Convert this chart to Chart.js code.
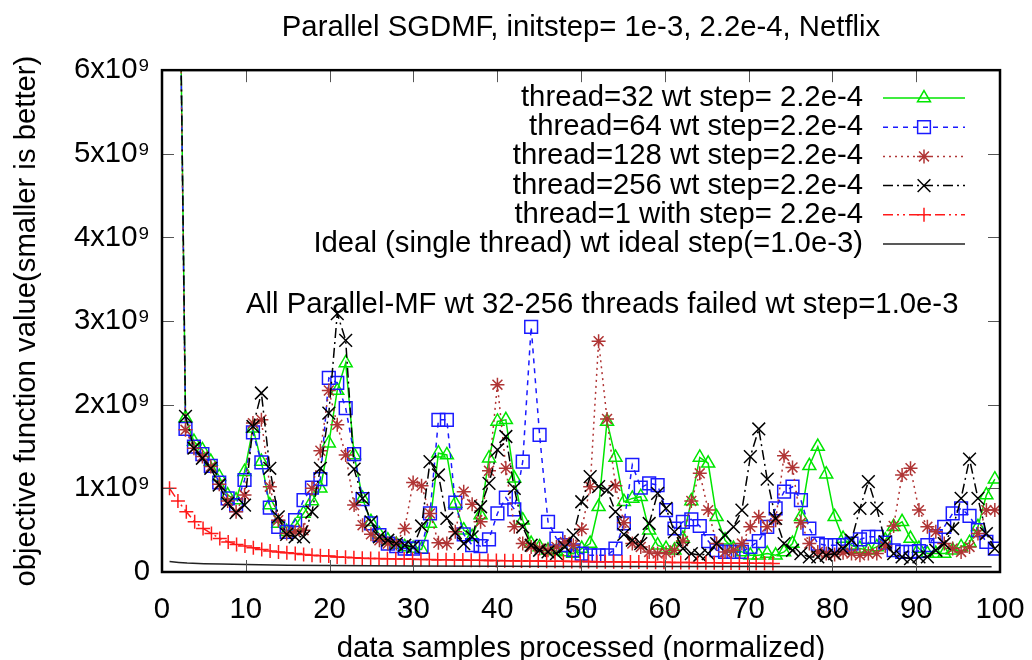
<!DOCTYPE html>
<html>
<head>
<meta charset="utf-8">
<title>Parallel SGDMF</title>
<script src="https://cdn.jsdelivr.net/npm/chart.js@4.4.1/dist/chart.umd.min.js"></script>
<style>
  html, body { margin: 0; padding: 0; background: #fff; }
</style>
</head>
<body>
<canvas id="chartSgd" width="1032" height="660"></canvas>
<script>
// x position of the first sample and the spacing between samples
const sampleStart = 1.8;
const sampleStep = 1.006;
const singleStart = 0.9;
const singleStep = 1.0;

// objective values, in units of 1e9 (first parallel sample is far above the plot)
const thread32 = [10,
  1.84, 1.56, 1.46, 1.32, 1.14, 0.92, 0.86, 1.20, 1.72, 1.32, 0.80, 0.58, 0.48, 0.55, 0.70, 0.85, 1.00, 1.54, 2.17, 2.50, 1.40, 0.88,
  0.60, 0.45, 0.38, 0.33, 0.30, 0.28, 0.27, 0.58, 1.42, 1.40, 0.82, 0.50, 0.42, 0.68, 1.36, 1.80, 1.82, 1.12, 0.62, 0.34, 0.30, 0.26, 0.25, 0.24, 0.22,
  0.28, 0.34, 0.78, 1.80, 1.37, 0.84, 0.88, 0.90, 0.50, 0.32, 0.28, 0.26, 0.40, 0.85, 1.37, 1.30, 0.66, 0.38, 0.28, 0.24, 0.20, 0.20, 0.22, 0.20, 0.24,
  0.34, 0.66, 1.27, 1.50, 1.17, 0.66, 0.40, 0.32, 0.28, 0.26, 0.30, 0.38, 0.54, 0.60, 0.40, 0.28, 0.22, 0.22, 0.22, 0.26, 0.30, 0.35, 0.54, 0.92, 1.11];
const thread64 = [10,
  1.71, 1.50, 1.41, 1.27, 1.07, 0.88, 0.80, 1.10, 1.67, 1.31, 0.77, 0.54, 0.48, 0.62, 0.86, 1.01, 1.11, 2.32, 2.26, 1.96, 1.41, 0.87,
  0.58, 0.44, 0.34, 0.31, 0.28, 0.28, 0.30, 0.70, 1.82, 1.82, 0.83, 0.45, 0.32, 0.31, 0.39, 0.70, 0.89, 0.75, 1.32, 2.93, 1.64, 0.60, 0.40, 0.32, 0.26,
  0.22, 0.20, 0.20, 0.20, 0.28, 0.58, 1.28, 1.01, 1.06, 1.04, 0.74, 0.52, 0.60, 0.63, 0.55, 0.37, 0.26, 0.24, 0.24, 0.24, 0.30, 0.37, 0.54, 0.76, 0.96,
  1.02, 0.86, 0.52, 0.34, 0.32, 0.32, 0.32, 0.34, 0.39, 0.42, 0.42, 0.35, 0.26, 0.24, 0.24, 0.25, 0.32, 0.43, 0.54, 0.70, 0.76, 0.67, 0.50, 0.36, 0.28];
const thread128 = [10,
  1.70, 1.48, 1.38, 1.26, 1.05, 0.85, 0.72, 0.92, 1.78, 1.82, 1.02, 0.62, 0.46, 0.48, 0.50, 1.00, 1.45, 2.17, 1.76, 1.40, 0.80, 0.56,
  0.45, 0.38, 0.34, 0.34, 0.52, 1.07, 1.03, 0.70, 0.35, 0.34, 0.48, 0.96, 0.81, 0.60, 1.21, 2.24, 1.24, 0.54, 0.34, 0.30, 0.28, 0.26, 0.30, 0.36, 0.32,
  0.51, 1.02, 2.76, 1.83, 1.03, 0.59, 0.34, 0.30, 0.24, 0.22, 0.23, 0.26, 0.37, 0.85, 1.18, 0.74, 0.34, 0.24, 0.26, 0.34, 0.54, 0.66, 0.54, 0.62, 1.39,
  1.25, 0.59, 0.34, 0.24, 0.22, 0.21, 0.23, 0.22, 0.20, 0.22, 0.22, 0.31, 0.55, 1.16, 1.24, 0.74, 0.54, 0.48, 0.34, 0.28, 0.24, 0.30, 0.46, 0.74, 0.74];
const thread256 = [10,
  1.86, 1.48, 1.36, 1.24, 1.04, 0.82, 0.71, 0.80, 1.74, 2.14, 1.24, 0.66, 0.45, 0.42, 0.42, 0.72, 1.24, 1.90, 3.09, 2.77, 1.23, 0.88,
  0.60, 0.42, 0.38, 0.34, 0.32, 0.30, 0.55, 1.32, 1.16, 0.64, 0.47, 0.34, 0.42, 0.78, 1.06, 1.46, 1.62, 1.00, 0.54, 0.32, 0.26, 0.24, 0.22, 0.30, 0.44,
  0.84, 1.14, 1.02, 0.98, 0.72, 0.45, 0.38, 0.34, 0.58, 0.94, 0.76, 0.48, 0.28, 0.22, 0.20, 0.22, 0.34, 0.44, 0.54, 0.74, 1.38, 1.71, 1.11, 0.64, 0.34,
  0.26, 0.22, 0.18, 0.18, 0.20, 0.22, 0.28, 0.38, 0.76, 1.08, 0.76, 0.36, 0.22, 0.18, 0.16, 0.18, 0.18, 0.26, 0.34, 0.52, 0.88, 1.35, 0.88, 0.46, 0.28];
const thread1 = [
  1.00, 0.85, 0.72, 0.60, 0.52, 0.46, 0.40, 0.36, 0.33, 0.31, 0.29, 0.27, 0.25, 0.24, 0.23, 0.22, 0.21, 0.20, 0.195, 0.19, 0.18, 0.175, 0.17, 0.165,
  0.162, 0.16, 0.158, 0.156, 0.154, 0.152, 0.15, 0.148, 0.146, 0.145, 0.143, 0.142, 0.14, 0.139, 0.138, 0.136, 0.135, 0.134, 0.133, 0.132, 0.131, 0.13, 0.129, 0.128, 0.127, 0.126, 0.125,
  0.124, 0.123, 0.122, 0.121, 0.12, 0.119, 0.118, 0.117, 0.116, 0.115, 0.114, 0.113, 0.112, 0.111, 0.11, 0.109, 0.108, 0.107, 0.106, 0.105, 0.104, 0.103];
const idealX = [0.9, 2, 3, 5, 7, 10, 15, 20, 30, 40, 50, 60, 70, 80, 90, 99];
const idealY = [0.125, 0.115, 0.108, 0.100, 0.095, 0.090, 0.082, 0.077, 0.072, 0.069, 0.067, 0.066, 0.065, 0.064, 0.063, 0.062];

const labels = [
  'thread=32 wt step= 2.2e-4',
  'thread=64 wt step=2.2e-4',
  'thread=128 wt step=2.2e-4',
  'thread=256 wt step=2.2e-4',
  'thread=1 with step= 2.2e-4',
  'Ideal (single thread) wt ideal step(=1.0e-3)'
];
const note = 'All Parallel-MF wt 32-256 threads failed wt step=1.0e-3';
const fontFamily = '"Liberation Sans", Arial, Helvetica, sans-serif';
const fontSize = 29.3;

function toPoints(values, start, step) {
  return values.map(function (v, i) {
    return { x: start + i * step, y: v };
  });
}

const datasets = [
  { label: labels[0], data: toPoints(thread32, sampleStart, sampleStep), borderColor: '#00e600', borderWidth: 1.5, borderDash: [],
    pointStyle: 'triangle', pointRadius: 7.5, order: 6 },
  { label: labels[1], data: toPoints(thread64, sampleStart, sampleStep), borderColor: '#1a1aff', borderWidth: 1.5, borderDash: [5, 5],
    pointStyle: 'rect', pointRadius: 9, order: 5 },
  { label: labels[2], data: toPoints(thread128, sampleStart, sampleStep), borderColor: '#b03535', borderWidth: 1.5, borderDash: [2, 4],
    pointStyle: 'star', pointRadius: 7, order: 4 },
  { label: labels[3], data: toPoints(thread256, sampleStart, sampleStep), borderColor: '#000000', borderWidth: 1.5, borderDash: [10, 4, 2, 4],
    pointStyle: 'crossRot', pointRadius: 9, order: 3 },
  { label: labels[4], data: toPoints(thread1, singleStart, singleStep), borderColor: '#ff1a1a', borderWidth: 1.5, borderDash: [10, 4, 2, 4, 2, 4],
    pointStyle: 'cross', pointRadius: 7, order: 2 },
  { label: labels[5], data: idealX.map(function (x, i) { return { x: x, y: idealY[i] }; }), borderColor: '#222222', borderWidth: 1.5, borderDash: [],
    pointStyle: 'circle', pointRadius: 0, order: 1 }
];
datasets.forEach(function (ds) {
  ds.pointBorderColor = ds.borderColor;
  ds.pointBackgroundColor = 'rgba(0,0,0,0)';
  ds.pointBorderWidth = 1.5;
  ds.tension = 0;
  ds.fill = false;
});

// gnuplot style frame, mirrored inward ticks, key and label
const gnuplotFrame = {
  id: 'gnuplotFrame',
  afterDraw(chart) {
    const ctx = chart.ctx;
    const a = chart.chartArea;
    const xs = chart.scales.x;
    const ys = chart.scales.y;
    ctx.save();
    ctx.strokeStyle = '#555';
    ctx.lineWidth = 1;
    ctx.setLineDash([]);
    ctx.beginPath();
    xs.ticks.forEach(function (t) {
      const px = Math.round(xs.getPixelForValue(t.value)) + 0.5;
      ctx.moveTo(px, a.bottom); ctx.lineTo(px, a.bottom - 12);
      ctx.moveTo(px, a.top); ctx.lineTo(px, a.top + 12);
    });
    ys.ticks.forEach(function (t) {
      const py = Math.round(ys.getPixelForValue(t.value)) + 0.5;
      ctx.moveTo(a.left, py); ctx.lineTo(a.left + 12, py);
      ctx.moveTo(a.right, py); ctx.lineTo(a.right - 12, py);
    });
    ctx.stroke();

    ctx.strokeStyle = '#000';
    ctx.lineWidth = 2.5;
    ctx.strokeRect(a.left, a.top, a.right - a.left, a.bottom - a.top);

    // key
    ctx.font = fontSize + 'px ' + fontFamily;
    ctx.fillStyle = '#000';
    ctx.textAlign = 'right';
    ctx.textBaseline = 'middle';
    const keyY0 = 98, keyDy = 29.2, textRight = 863, lineL = 883, lineR = 965, markX = 924;
    chart.data.datasets.forEach(function (ds, i) {
      const yy = keyY0 + i * keyDy;
      ctx.fillStyle = '#000';
      ctx.fillText(ds.label, textRight, yy);
      ctx.strokeStyle = ds.borderColor;
      ctx.lineWidth = ds.borderWidth;
      ctx.setLineDash(ds.borderDash);
      ctx.beginPath();
      ctx.moveTo(lineL, yy); ctx.lineTo(lineR, yy);
      ctx.stroke();
      ctx.setLineDash([]);
      if (ds.pointRadius > 0 && Chart.helpers && Chart.helpers.drawPoint) {
        ctx.fillStyle = 'rgba(0,0,0,0)';
        ctx.strokeStyle = ds.borderColor;
        ctx.lineWidth = ds.pointBorderWidth;
        Chart.helpers.drawPoint(ctx, { pointStyle: ds.pointStyle, radius: ds.pointRadius, rotation: 0, borderWidth: ds.pointBorderWidth }, markX, yy);
      }
    });

    ctx.fillStyle = '#000';
    ctx.textAlign = 'left';
    ctx.fillText(note, 246, 305);
    ctx.restore();
  }
};

const config = {
  type: 'line',
  data: { datasets: datasets },
  options: {
    responsive: false,
    animation: false,
    devicePixelRatio: 1,
    layout: { padding: { left: 0, right: 32, top: 0, bottom: 0 } },
    plugins: {
      legend: { display: false },
      tooltip: { enabled: false },
      title: {
        display: true,
        fullSize: false,
        text: 'Parallel SGDMF, initstep= 1e-3, 2.2e-4, Netflix',
        color: '#000',
        font: { size: fontSize, weight: 'normal' },
        padding: { top: 10, bottom: 25 }
      }
    },
    scales: {
      x: {
        type: 'linear',
        min: 0,
        max: 100,
        grid: { display: false, drawTicks: false },
        border: { display: false },
        ticks: { stepSize: 10, padding: 20, color: '#000', maxRotation: 0 },
        title: { display: true, text: 'data samples processed (normalized)', color: '#000', padding: { top: 0, bottom: -6 } },
        afterFit: function (scale) { scale.height = 88; scale.paddingLeft = 0; scale.paddingRight = 0; }
      },
      y: {
        type: 'linear',
        min: 0,
        max: 6,
        grid: { display: false, drawTicks: false },
        border: { display: false },
        ticks: {
          stepSize: 1,
          padding: 12,
          color: '#000',
          callback: function (v) { return v === 0 ? '0' : v + 'x10\u2079'; }
        },
        title: { display: true, text: 'objective function value(smaller is better)', color: '#000', padding: { top: 9, bottom: 0 } },
        afterFit: function (scale) { scale.width = 162; }
      }
    }
  },
  plugins: [gnuplotFrame]
};

Chart.defaults.font.family = fontFamily;
Chart.defaults.font.size = fontSize;

const chartSgd = new Chart(document.getElementById('chartSgd'), config);
</script>
</body>
</html>
